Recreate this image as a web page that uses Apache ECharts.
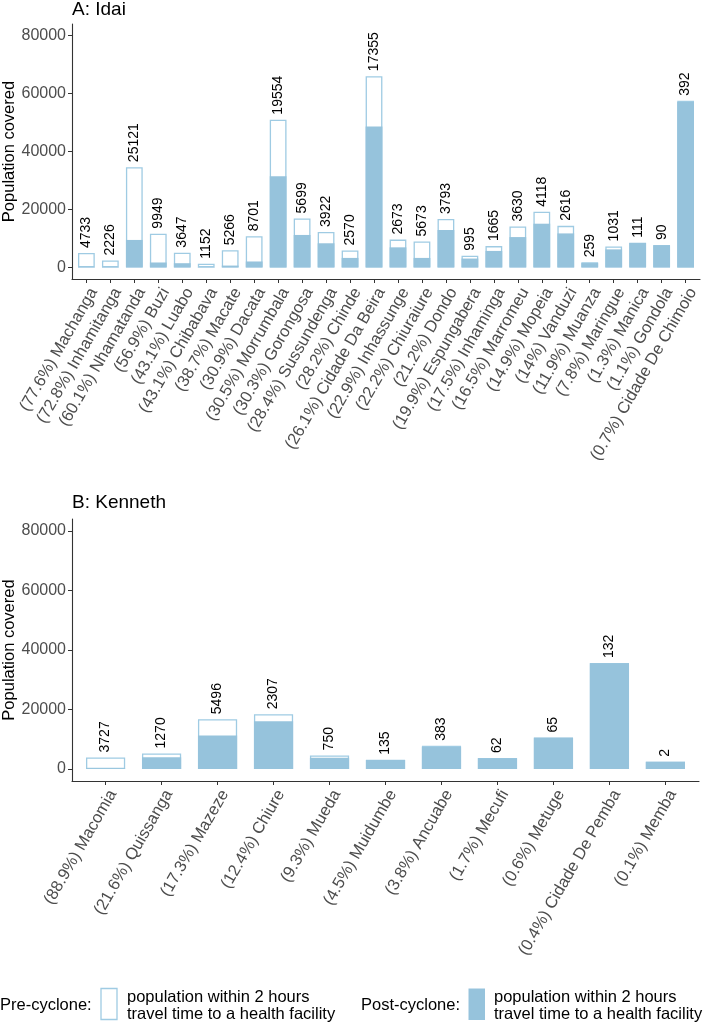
<!DOCTYPE html>
<html><head><meta charset="utf-8">
<script src="https://cdn.jsdelivr.net/npm/echarts@6/dist/echarts.min.js"></script>
<style>html,body{margin:0;padding:0;background:#fff}#c{width:704px;height:1024px}</style>
</head><body><div id="c"></div>
<script>
const catsA = ['Machanga','Inhamitanga','Nhamatanda','Buzi','Luabo','Chibabava','Macate','Dacata','Morrumbala','Gorongosa','Sussundenga','Chinde','Cidade Da Beira','Inhassunge','Chiuraiure','Dondo','Espungabera','Inhaminga','Marromeu','Mopeia','Vanduzi','Muanza','Maringue','Manica','Gondola','Cidade De Chimoio'];
const pctA = [77.6,72.8,60.1,56.9,43.1,43.1,38.7,30.9,30.5,30.3,28.4,28.2,26.1,22.9,22.2,21.2,19.9,17.5,16.5,14.9,14,11.9,7.8,1.3,1.1,0.7];
const preA = [4950,2400,34600,11650,5100,1300,5900,10750,51000,16900,12250,5850,66000,9600,8950,16700,4050,7350,14100,19200,14350,1750,7250,8550,7700,57500];
const postA = [217,174,9479,1701,1453,148,634,2049,31446,11201,8328,3280,48645,6927,3277,12907,3055,5685,10470,15082,11734,1491,6219,8439,7610,57108];
const lossA = [4733,2226,25121,9949,3647,1152,5266,8701,19554,5699,3922,2570,17355,2673,5673,3793,995,1665,3630,4118,2616,259,1031,111,90,392];

const catsB = ['Macomia','Quissanga','Mazeze','Chiure','Mueda','Muidumbe','Ancuabe','Mecufi','Metuge','Cidade De Pemba','Memba'];
const pctB = [88.9,21.6,17.3,12.4,9.3,4.5,3.8,1.7,0.6,0.4,0.1];
const preB = [3900,5250,16750,18400,4600,3150,7800,3700,10600,35650,2450];
const postB = [173,3980,11254,16093,3850,3015,7417,3638,10535,35518,2448];
const lossB = [3727,1270,5496,2307,750,135,383,62,65,132,2];

const yTicks = [0,20000,40000,60000,80000];

const FONT = 'Liberation Sans, Arial, Helvetica, sans-serif';
const PRE_BORDER = '#9fcbe3';
const POST_FILL = '#96c3dc';
const AXIS = '#333333';
const TXT = '#4d4d4d';

function xAxisFor(idx, cats, pcts) {
  const pos = cats.map((c, i) => i + 1);
  return {
    type: 'value', gridIndex: idx, min: 0.4, max: cats.length + 0.6,
    splitLine: {show: false},
    axisLine: {show: true, onZero: false, lineStyle: {color: AXIS, width: 1.1}},
    axisTick: {show: true, customValues: pos, length: 4, lineStyle: {color: AXIS, width: 1}},
    axisLabel: {
      show: true, customValues: pos, rotate: 60, align: 'right', verticalAlign: 'top',
      margin: 6, fontSize: 16.5, color: TXT, fontFamily: FONT, hideOverlap: false,
      formatter: v => { const i = Math.round(v) - 1; return '(' + pcts[i] + '%) ' + cats[i]; }
    }
  };
}
function yAxisFor(idx) {
  return {
    type: 'value', gridIndex: idx, min: -4000, max: 84000,
    splitLine: {show: false},
    axisLine: {show: true, onZero: false, lineStyle: {color: AXIS, width: 1.1}},
    axisTick: {show: true, customValues: yTicks, length: 4, lineStyle: {color: AXIS, width: 1}},
    axisLabel: {customValues: yTicks, formatter: v => String(v), fontSize: 16, color: TXT, margin: 6, fontFamily: FONT},
    name: 'Population covered', nameLocation: 'middle', nameGap: 54, nameMoveOverlap: false,
    nameTextStyle: {fontSize: 16.5, color: '#000', fontFamily: FONT}
  };
}
function seriesFor(idx, pre, post, loss) {
  return [
    {
      type: 'bar', xAxisIndex: idx, yAxisIndex: idx, barWidth: '70%', barGap: '-100%',
      data: pre.map((v, i) => [i + 1, v]),
      itemStyle: {color: '#ffffff', borderColor: PRE_BORDER, borderWidth: 1.3},
      label: {
        show: true, position: 'top', distance: 5, rotate: 90, align: 'left', verticalAlign: 'middle',
        fontSize: 14, color: '#000', fontFamily: FONT,
        formatter: p => String(loss[p.dataIndex])
      },
      silent: true, animation: false
    },
    {
      type: 'bar', xAxisIndex: idx, yAxisIndex: idx, barWidth: '70%', barGap: '-100%',
      data: post.map((v, i) => [i + 1, v]),
      itemStyle: {color: POST_FILL},
      silent: true, animation: false
    }
  ];
}

const legendText = 'population within 2 hours\ntravel time to a health facility';
const chart = echarts.init(document.getElementById('c'), null, {renderer: 'canvas'});
chart.setOption({
  animation: false,
  backgroundColor: '#fff',
  textStyle: {fontFamily: FONT},
  title: [
    {text: 'A: Idai', left: 72, top: 0, padding: 0, textStyle: {fontSize: 19, fontWeight: 'normal', color: '#000', fontFamily: FONT}},
    {text: 'B: Kenneth', left: 72, top: 493, padding: 0, textStyle: {fontSize: 19, fontWeight: 'normal', color: '#000', fontFamily: FONT}}
  ],
  grid: [
    {left: 72, right: 4, top: 24, height: 255, containLabel: false, outerBoundsMode: 'none'},
    {left: 72, right: 5, top: 519, height: 262, containLabel: false, outerBoundsMode: 'none'}
  ],
  xAxis: [xAxisFor(0, catsA, pctA), xAxisFor(1, catsB, pctB)],
  yAxis: [yAxisFor(0), yAxisFor(1)],
  series: [...seriesFor(0, preA, postA, lossA), ...seriesFor(1, preB, postB, lossB)],
  graphic: [
    {type: 'text', left: 0, top: 997, style: {text: 'Pre-cyclone:', fontSize: 16.5, fill: '#000', fontFamily: FONT}},
    {type: 'rect', shape: {x: 101, y: 988.5, width: 16, height: 31}, style: {fill: '#fff', stroke: PRE_BORDER, lineWidth: 1.3}},
    {type: 'text', left: 127, top: 989, style: {text: legendText, fontSize: 16.5, lineHeight: 16.6, fill: '#000', fontFamily: FONT}},
    {type: 'text', left: 361, top: 997, style: {text: 'Post-cyclone:', fontSize: 16.5, fill: '#000', fontFamily: FONT}},
    {type: 'rect', shape: {x: 468.5, y: 988.5, width: 16.5, height: 31.5}, style: {fill: POST_FILL}},
    {type: 'text', left: 494, top: 989, style: {text: legendText, fontSize: 16.5, lineHeight: 16.6, fill: '#000', fontFamily: FONT}}
  ]
});
</script></body></html>
